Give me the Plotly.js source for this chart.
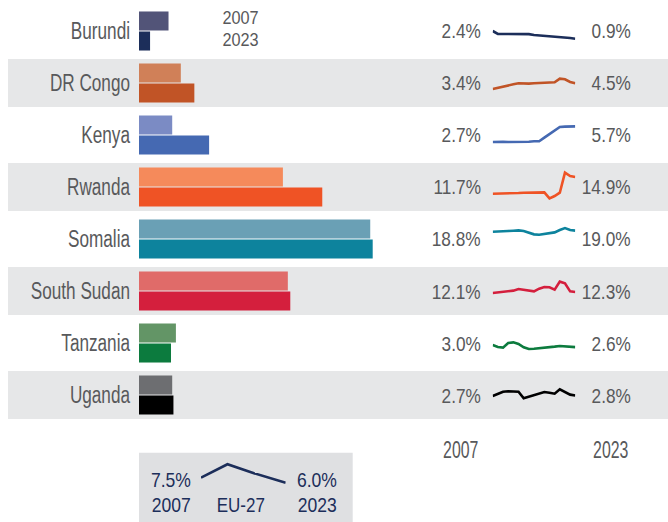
<!DOCTYPE html>
<html>
<head>
<meta charset="utf-8">
<script src="https://cdn.plot.ly/plotly-3.0.1.min.js"></script>
<style>
html,body{margin:0;padding:0;background:#fff;}
#chart{width:668px;height:522px;}
</style>
</head>
<body>
<div id="chart"></div>
<script>
// ---- data ----
const countries = ['Burundi', 'DR Congo', 'Kenya', 'Rwanda', 'Somalia', 'South Sudan', 'Tanzania', 'Uganda'];
const value2007 = [2.4, 3.4, 2.7, 11.7, 18.8, 12.1, 3.0, 2.7];
const value2023 = [0.9, 4.5, 5.7, 14.9, 19.0, 12.3, 2.6, 2.8];
const color2007 = ['#525478', '#d08058', '#7b8bc4', '#f58a5b', '#6aa0b5', '#e06b69', '#639566', '#6d6e71'];
const color2023 = ['#1c2e5a', '#c15426', '#4569b2', '#ef5325', '#0d839d', '#d41f3d', '#0c7b3e', '#000000'];
const years = [2007, 2008, 2009, 2010, 2011, 2012, 2013, 2014, 2015, 2016, 2017, 2018, 2019, 2020, 2021, 2022, 2023];
const burundiSeries = [2.4, 1.85, 1.82, 1.82, 1.82, 1.82, 1.8, 1.8, 1.62, 1.55, 1.5, 1.42, 1.3, 1.22, 1.2, 1.05, 0.9];
const drCongoSeries = [3.4, 3.66, 3.92, 4.1, 4.3, 4.5, 4.43, 4.43, 4.5, 4.56, 4.62, 4.75, 4.68, 5.39, 5.26, 4.75, 4.5];
const kenyaSeries = [2.7, 2.76, 2.76, 2.7, 2.7, 2.64, 2.7, 2.76, 2.83, 2.83, 3.53, 4.24, 4.94, 5.58, 5.65, 5.7, 5.7];
const rwandaSeries = [11.7, 11.7, 11.76, 11.76, 11.83, 11.83, 11.89, 11.89, 11.89, 11.89, 11.96, 10.8, 11.25, 11.89, 15.74, 15.1, 14.9];
const somaliaSeries = [18.8, 18.8, 18.86, 18.93, 18.99, 19.05, 18.93, 18.67, 18.29, 18.22, 18.35, 18.61, 18.67, 19.12, 19.5, 19.12, 19.0];
const southSudanSeries = [12.1, 12.23, 12.29, 12.42, 12.55, 12.87, 12.68, 12.55, 12.42, 12.93, 13.25, 13.2, 12.74, 14.28, 13.97, 12.42, 12.3];
const tanzaniaSeries = [3.0, 2.62, 2.5, 3.38, 3.51, 3.19, 2.55, 2.23, 2.29, 2.36, 2.42, 2.49, 2.68, 2.81, 2.74, 2.62, 2.6];
const ugandaSeries = [2.7, 3.08, 3.53, 3.6, 3.53, 3.53, 2.25, 2.57, 2.89, 3.21, 3.47, 3.34, 3.15, 3.98, 3.4, 2.96, 2.8];
const euLabel = 'EU-27';
const euYears = [2007, 2012, 2017, 2023];
const euSeries = [7.5, 11.4, 8.8, 6.0];
const headerLabels = ['2007', '2023'];

const allSeries = [burundiSeries, drCongoSeries, kenyaSeries, rwandaSeries, somaliaSeries, southSudanSeries, tanzaniaSeries, ugandaSeries];

// ---- layout helpers (pixel geometry) ----
const W = 668, H = 522;
const px = x => x / W;
const py = y => 1 - y / H;
const FONT = '"Liberation Sans", Arial, sans-serif';
const GREY = '#58595b';
const NAVY = '#1c2e5a';
const rowTop = 5, rowPitch = 52;
const sparkScale = 5.2;              // px per percentage point
const sparkStartPx = [31, 89, 142, 193.7, 231.7, 293, 345, 396]; // vertical position of first point

const fmt = v => v.toFixed(1) + '%';
const annSqueeze = [];   // horizontal condensing factor per annotation (narrow-font look)

const traces = [];
traces.push({
  type: 'bar', orientation: 'h', name: '2007',
  y: countries, x: value2007, marker: {color: color2007},
  xaxis: 'x', yaxis: 'y', hoverinfo: 'skip', showlegend: false
});
traces.push({
  type: 'bar', orientation: 'h', name: '2023',
  y: countries, x: value2023, marker: {color: color2023},
  xaxis: 'x', yaxis: 'y', hoverinfo: 'skip', showlegend: false
});

const layout = {
  width: W, height: H,
  margin: {l: 0, r: 0, t: 0, b: 0},
  paper_bgcolor: '#ffffff',
  plot_bgcolor: 'rgba(0,0,0,0)',
  showlegend: false,
  barmode: 'group', bargap: 0.23, bargroupgap: 0.05,
  font: {family: FONT, color: GREY},
  xaxis: {domain: [px(139), px(400)], range: [0, 261 / 12.3], visible: false, fixedrange: true},
  yaxis: {
    domain: [py(rowTop + 8 * rowPitch), py(rowTop)],
    type: 'category', categoryarray: countries, range: [7.5, -0.5],
    showgrid: false, zeroline: false, showline: false, ticks: '',
    ticklabelstandoff: 8,
    tickfont: {family: FONT, size: 23.5, color: GREY}, fixedrange: true
  },
  xaxis2: {domain: [px(492.7), px(575.3)], range: [2007, 2023], visible: false, anchor: 'y2'},
  xaxis3: {domain: [px(201), px(285.7)], range: [2007, 2023], visible: false, anchor: 'y10'},
  shapes: [], annotations: []
};

function addAnn(ann, squeeze) {
  layout.annotations.push(ann);
  annSqueeze.push(squeeze);
}

allSeries.forEach((series, k) => {
  const axisNum = k + 2;
  const top = rowTop + k * rowPitch, bottom = top + rowPitch;
  const v0 = series[0], p0 = sparkStartPx[k];
  layout['yaxis' + axisNum] = {
    domain: [py(bottom), py(top)],
    range: [v0 - (bottom - p0) / sparkScale, v0 + (p0 - top) / sparkScale],
    visible: false, anchor: 'x2'
  };
  traces.push({
    type: 'scatter', mode: 'lines', x: years, y: series,
    xaxis: 'x2', yaxis: 'y' + axisNum,
    line: {color: color2023[k], width: 2.6}, hoverinfo: 'skip', cliponaxis: false
  });
  if (k % 2 === 1) {
    layout.shapes.push({
      type: 'rect', layer: 'below', xref: 'paper', yref: 'y',
      x0: px(8), x1: 1, y0: k - 0.4615, y1: k + 0.4615,
      fillcolor: '#e6e7e8', line: {width: 0}
    });
  }
  addAnn({
    xref: 'paper', yref: 'y', x: px(483), y: countries[k], xanchor: 'right', yanchor: 'middle', align: 'right',
    text: fmt(value2007[k]), showarrow: false, font: {family: FONT, size: 21, color: GREY}
  }, 0.82);
  addAnn({
    xref: 'paper', yref: 'y', x: px(633), y: countries[k], xanchor: 'right', yanchor: 'middle', align: 'right',
    text: fmt(value2023[k]), showarrow: false, font: {family: FONT, size: 21, color: GREY}
  }, 0.82);
});

// EU-27 sparkline
const euScale = 3.44, euTop = 458, euBottom = 488, euStart = 477.7;
layout.yaxis10 = {
  domain: [py(euBottom), py(euTop)],
  range: [euSeries[0] - (euBottom - euStart) / euScale, euSeries[0] + (euStart - euTop) / euScale],
  visible: false, anchor: 'x3'
};
traces.push({
  type: 'scatter', mode: 'lines', x: euYears, y: euSeries,
  xaxis: 'x3', yaxis: 'y10', line: {color: NAVY, width: 2.6}, hoverinfo: 'skip', cliponaxis: false
});
layout.shapes.push({
  type: 'rect', layer: 'below', xref: 'paper', yref: 'paper',
  x0: px(139), x1: px(352.7), y0: 0, y1: py(452.7),
  fillcolor: '#dfe0e2', line: {width: 0}
});

function addText(text, x, y, size, color, squeeze) {
  addAnn({
    xref: 'paper', yref: 'paper', x: px(x), y: py(y), xanchor: 'center', yanchor: 'middle',
    text: text, showarrow: false, font: {family: FONT, size: size, color: color}
  }, squeeze);
}
// header legend
addText(headerLabels[0], 240.5, 18, 18.5, GREY, 0.88);
addText(headerLabels[1], 240.5, 40, 18.5, GREY, 0.88);
// bottom year labels
addText(String(years[0]), 460.5, 449.5, 24, GREY, 0.66);
addText(String(years[years.length - 1]), 610, 449.5, 24, GREY, 0.66);
// EU box texts
addText(fmt(euSeries[0]), 171, 479.5, 21, NAVY, 0.835);
addText(String(euYears[0]), 171, 504.5, 21, NAVY, 0.835);
addText(euLabel, 241, 504.5, 21, NAVY, 0.81);
addText(fmt(euSeries[euSeries.length - 1]), 317, 479.5, 21, NAVY, 0.835);
addText(String(euYears[euYears.length - 1]), 317, 504.5, 21, NAVY, 0.835);

// narrow-font look: condense text horizontally (keeps it as real SVG text)
function squeezeText(t, f) {
  const w = t.getComputedTextLength();
  if (w > 0) {
    t.setAttribute('textLength', (w * f).toFixed(2));
    t.setAttribute('lengthAdjust', 'spacingAndGlyphs');
  }
}
function condense(gd) {
  gd.querySelectorAll('.ytick text').forEach(t => squeezeText(t, 0.73));
  gd.querySelectorAll('g.annotation').forEach(g => {
    const i = +g.getAttribute('data-index');
    const t = g.querySelector('text.annotation-text');
    if (t && annSqueeze[i]) squeezeText(t, annSqueeze[i]);
  });
}

Plotly.newPlot('chart', traces, layout, {staticPlot: true, displayModeBar: false}).then(condense);
</script>
</body>
</html>
